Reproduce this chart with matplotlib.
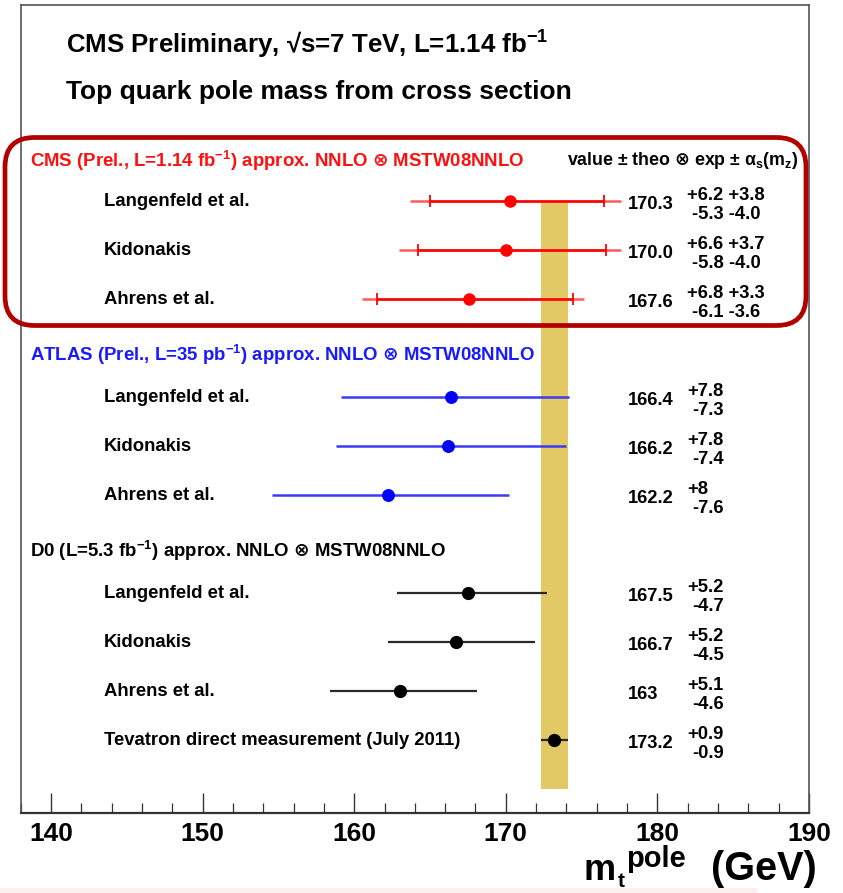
import numpy as np
import matplotlib
matplotlib.use("Agg")
import matplotlib.pyplot as plt
from matplotlib.patches import FancyBboxPatch, Rectangle
from matplotlib.transforms import blended_transform_factory

plt.rcParams['font.family'] = ['Liberation Sans', 'DejaVu Sans']
plt.rcParams['font.weight'] = 'bold'
plt.rcParams['mathtext.fontset'] = 'custom'
plt.rcParams['mathtext.rm'] = 'Liberation Sans:bold'
plt.rcParams['mathtext.bf'] = 'Liberation Sans:bold'
plt.rcParams['mathtext.it'] = 'Liberation Sans:bold'
plt.rcParams['mathtext.sf'] = 'DejaVu Sans'
plt.rcParams['mathtext.default'] = 'bf'

# ---------------- data ----------------
cms_labels = ["Langenfeld et al.", "Kidonakis", "Ahrens et al."]
cms_val = [170.3, 170.0, 167.6]
cms_val_txt = ["170.3", "170.0", "167.6"]
cms_theo_up = [6.2, 6.6, 6.8]
cms_theo_dn = [5.3, 5.8, 6.1]
cms_as_up = [3.8, 3.7, 3.3]
cms_as_dn = [4.0, 4.0, 3.6]
cms_up_txt = ["+6.2 +3.8", "+6.6 +3.7", "+6.8 +3.3"]
cms_dn_txt = ["-5.3 -4.0", "-5.8 -4.0", "-6.1 -3.6"]

atlas_labels = ["Langenfeld et al.", "Kidonakis", "Ahrens et al."]
atlas_val = [166.4, 166.2, 162.2]
atlas_val_txt = ["166.4", "166.2", "162.2"]
atlas_up = [7.8, 7.8, 8.0]
atlas_dn = [7.3, 7.4, 7.6]
atlas_up_txt = ["+7.8", "+7.8", "+8"]
atlas_dn_txt = ["-7.3", "-7.4", "-7.6"]

d0_labels = ["Langenfeld et al.", "Kidonakis", "Ahrens et al.",
             "Tevatron direct measurement (July 2011)"]
d0_val = [167.5, 166.7, 163.0, 173.2]
d0_val_txt = ["167.5", "166.7", "163", "173.2"]
d0_up = [5.2, 5.2, 5.1, 0.9]
d0_dn = [4.7, 4.5, 4.6, 0.9]
d0_up_txt = ["+5.2", "+5.2", "+5.1", "+0.9"]
d0_dn_txt = ["-4.7", "-4.5", "-4.6", "-0.9"]

band_center = 173.2
band_halfwidth = 0.9

x_major = [140, 150, 160, 170, 180, 190]

OTIMES = r'$\mathsf{⊗}$'

# ---------------- layout ----------------
W, H = 843, 893
fig = plt.figure(figsize=(W / 100, H / 100), dpi=100)
fig.patch.set_facecolor('white')
ax_l, ax_r, ax_t, ax_b = 20.7, 809.0, 5.0, 812.7
ax = fig.add_axes([ax_l / W, 1 - ax_b / H, (ax_r - ax_l) / W, (ax_b - ax_t) / H])
ax.set_xlim(138, 190)
ax.set_ylim(13.48, -3.0)

def fx(px):
    return (px - ax_l) / (ax_r - ax_l)

tr = blended_transform_factory(ax.transAxes, ax.transData)

cms_rows = [1 + i for i in range(len(cms_val))]
atlas_rows = [cms_rows[-1] + 2 + i for i in range(len(atlas_val))]
d0_rows = [atlas_rows[-1] + 2 + i for i in range(len(d0_val))]

# band
ax.add_patch(Rectangle((band_center - band_halfwidth, cms_rows[0]), 2 * band_halfwidth,
                       13.0 - cms_rows[0], facecolor='#e2c966', edgecolor='none', zorder=1))

lab_fs = 13.3
val_fs = 13.2

def row_texts(rows, labels, vtxt, utxt, dtxt):
    for r, lab, v, u, d in zip(rows, labels, vtxt, utxt, dtxt):
        ax.text(fx(104), r, lab, transform=tr, ha='left', va='center', fontsize=lab_fs)
        ax.text(fx(628), r + 0.07, v, transform=tr, ha='left', va='center', fontsize=val_fs)
        ax.text(fx(687), r - 0.115, u, transform=tr, ha='left', va='center', fontsize=val_fs)
        ax.text(fx(692), r + 0.275, d, transform=tr, ha='left', va='center', fontsize=val_fs)

# CMS
cms_tot_up = np.hypot(cms_theo_up, cms_as_up)
cms_tot_dn = np.hypot(cms_theo_dn, cms_as_dn)
ax.errorbar(cms_val, cms_rows, xerr=[cms_tot_dn, cms_tot_up], fmt='none',
            ecolor='#ff5a5a', elinewidth=1.8, zorder=3)
ax.errorbar(cms_val, cms_rows, xerr=[cms_theo_dn, cms_theo_up], fmt='o', color='red',
            ecolor='red', elinewidth=1.8, capsize=4, capthick=1.3, markersize=8, zorder=4)
row_texts(cms_rows, cms_labels, cms_val_txt, cms_up_txt, cms_dn_txt)

# ATLAS
ax.errorbar(atlas_val, atlas_rows, xerr=[atlas_dn, atlas_up], fmt='o', color='blue',
            ecolor='#3a3af2', elinewidth=1.8, markersize=8.3, zorder=4)
row_texts(atlas_rows, atlas_labels, atlas_val_txt, atlas_up_txt, atlas_dn_txt)

# D0
ax.errorbar(d0_val, d0_rows, xerr=[d0_dn, d0_up], fmt='o', color='black',
            ecolor='#2a2a2a', elinewidth=1.6, markersize=8.5, zorder=4)
row_texts(d0_rows, d0_labels, d0_val_txt, d0_up_txt, d0_dn_txt)

# headers
hdr_fs = 13.4
ax.text(fx(30), cms_rows[0] - 0.82,
        'CMS (Prel., L=1.14 fb$^{-1}$) approx. NNLO ' + OTIMES + ' MSTW08NNLO',
        transform=tr, color='#ff1010', fontsize=hdr_fs, ha='left', va='center')
ax.text(fx(567), cms_rows[0] - 0.82,
        'value ± theo ' + OTIMES + ' exp ± α$_{s}$(m$_{z}$)',
        transform=tr, color='black', fontsize=12.8, ha='left', va='center')
ax.text(fx(30), atlas_rows[0] - 0.86,
        'ATLAS (Prel., L=35 pb$^{-1}$) approx. NNLO ' + OTIMES + ' MSTW08NNLO',
        transform=tr, color='#1a1aff', fontsize=hdr_fs, ha='left', va='center')
ax.text(fx(30), d0_rows[0] - 0.86,
        'D0 (L=5.3 fb$^{-1}$) approx. NNLO ' + OTIMES + ' MSTW08NNLO',
        transform=tr, color='black', fontsize=hdr_fs, ha='left', va='center')

# titles
ax.text(fx(66), -2.18, 'CMS Preliminary, √s=7 TeV, L=1.14 fb$^{-1}$',
        transform=tr, fontsize=18.6, ha='left', va='center')
ax.text(fx(66), -1.22, 'Top quark pole mass from cross section',
        transform=tr, fontsize=19, ha='left', va='center')

# axes styling
ax.set_xticks(x_major)
ax.set_xticklabels([str(v) for v in x_major], fontsize=19, fontweight='bold')
ax.set_xticks(np.arange(138, 191, 2), minor=True)
ax.set_yticks([])
ax.tick_params(axis='x', which='major', direction='in', length=14.5, width=1.0,
               color='#333333', pad=7)
ax.tick_params(axis='x', which='minor', direction='in', length=7, width=0.9,
               color='#333333')
for s in ['left', 'right', 'top']:
    ax.spines[s].set_color('#555555')
    ax.spines[s].set_linewidth(1.2)
ax.spines['bottom'].set_color('#333333')
ax.spines['bottom'].set_linewidth(1.6)

# x-axis title, composed from pieces
fig.text(817 / W, 1 - 880 / H, '(GeV)', fontsize=28.5, ha='right', va='baseline')
fig.text(584 / W, 1 - 880 / H, 'm', fontsize=26, ha='left', va='baseline')
fig.text(618 / W, 1 - 887 / H, 't', fontsize=15, ha='left', va='baseline')
fig.text(626 / W, 1 - 867 / H, 'pole', fontsize=21, ha='left', va='baseline')

# red highlight box (annotation overlay)
box = FancyBboxPatch((5 / W, 1 - 325.5 / H), (806 - 5) / W, (325.5 - 137.5) / H,
                     boxstyle='round,pad=0,rounding_size=0.035',
                     transform=fig.transFigure, facecolor='none', edgecolor='#b00000',
                     linewidth=3.4, mutation_aspect=W / H, zorder=10)
fig.patches.append(box)

# light strip at bottom of screenshot
fig.patches.append(Rectangle((0, 0), 757 / W, 5 / H, transform=fig.transFigure,
                             facecolor='#fcefed', edgecolor='none'))

fig.savefig('out.png', dpi=100)
